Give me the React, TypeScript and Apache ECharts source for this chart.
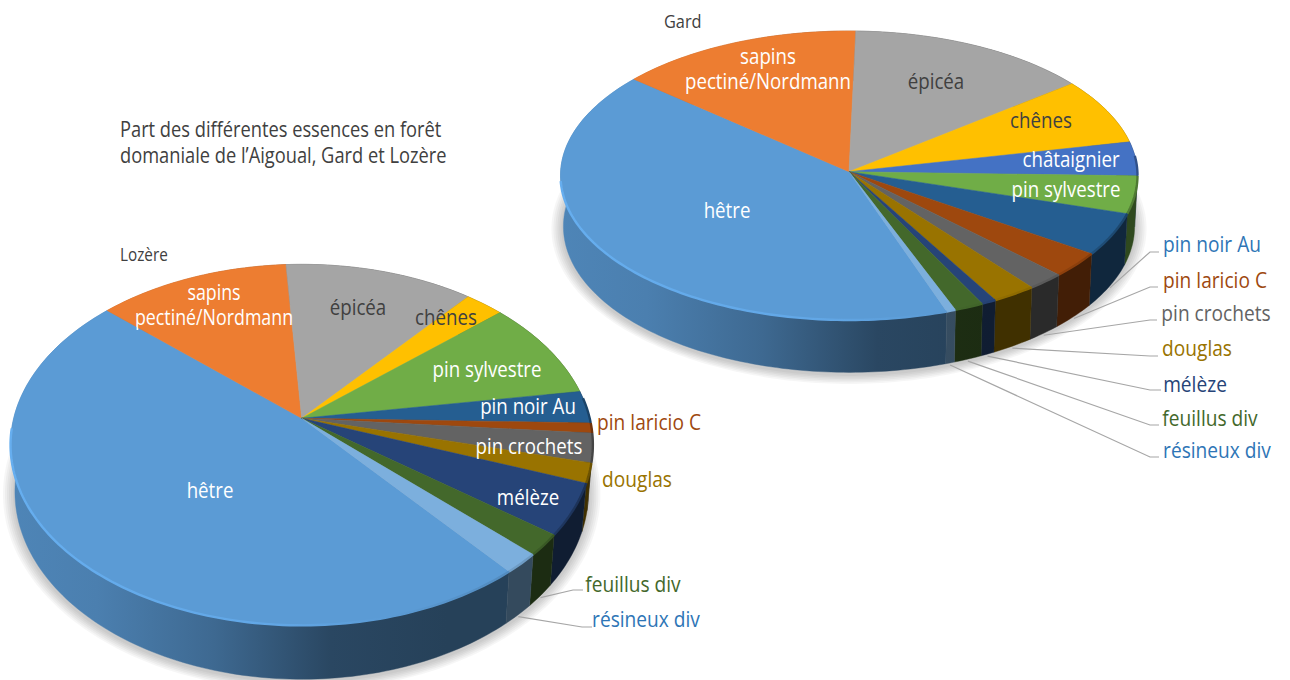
import React, { useEffect, useRef } from "react";
import * as echarts from "echarts";

const categories = [
  "hêtre", "sapins pectiné/Nordmann", "épicéa", "chênes", "châtaignier", "pin sylvestre",
  "pin noir Au", "pin laricio C", "pin crochets", "douglas", "mélèze", "feuillus div", "résineux div",
];
const lozereValues = [47.7, 12.3, 12.1, 2.5, 0, 8.9, 2.9, 0.9, 2.6, 1.75, 4.6, 1.9, 1.8];
const gardValues = [41.7, 14.1, 14.0, 7.3, 3.8, 4.2, 4.8, 2.9, 2.0, 2.4, 0.8, 1.6, 0.5];
const mainTitle = "Part des différentes essences en forêt\ndomaniale de l’Aigoual, Gard et Lozère";

const palette = ["#5B9BD5", "#ED7D31", "#A5A5A5", "#FFC000", "#4472C4", "#70AD47", "#255E91", "#9E480E", "#636363", "#997300", "#264478", "#43682B", "#7CAFDD"];
const textColors: any = {
  "pin noir Au": "#2E75B6", "pin laricio C": "#9E480E", "pin crochets": "#636363", douglas: "#997300",
  "mélèze": "#264478", "feuillus div": "#43682B", "résineux div": "#2E75B6",
};

const FONT = '"Open Sans"';

const lozereGeo = { ax: 301.7, ay: 418.3, rx: 288, ry: 176.6, p: 0.147, d: 46, bs: 0.985, start: 140.3, left: 10, right: 592, sapinScale: 0.81 };
const gardGeo = { ax: 849, ay: 171.7, rx: 288.4, ry: 144.4, p: 0.0263, d: 51, bs: 0.99, start: 160.7, left: 560, right: 1137, sapinScale: 0.85 };

// label centres: [x, y, colour override]
const lozereLabels: any = {
  "hêtre": [210, 489, "#fff"], "sapins pectiné/Nordmann": [214, 304, "#fff"], "épicéa": [358, 306, "#404040"],
  "chênes": [446, 316, "#404040"], "pin sylvestre": [487, 368, "#fff"], "pin noir Au": [528, 405, "#fff"],
  "pin laricio C": [649, 421], "pin crochets": [529, 445, "#fff"], douglas: [637, 478], "mélèze": [528, 496, "#fff"],
  "feuillus div": [633, 583], "résineux div": [646, 618],
};
const gardLabels: any = {
  "hêtre": [727, 209, "#fff"], "sapins pectiné/Nordmann": [768, 68, "#fff"], "épicéa": [936, 80, "#404040"],
  "chênes": [1041, 119, "#404040"], "châtaignier": [1071, 158, "#fff"], "pin sylvestre": [1066, 188, "#fff"],
  "pin noir Au": [1212, 243], "pin laricio C": [1215, 279], "pin crochets": [1216, 312], douglas: [1197, 347],
  "mélèze": [1195, 383], "feuillus div": [1210, 417], "résineux div": [1217, 449],
};
// leader lines: elbow then end
const lozereLeaders: any = {
  "feuillus div": [[573, 590], [583, 590]], "résineux div": [[582, 627], [592, 627]],
};
const gardLeaders: any = {
  "pin noir Au": [[1150, 252], [1159, 252]], "pin laricio C": [[1150, 287], [1158, 287]],
  "pin crochets": [[1150, 320], [1157, 320]], douglas: [[1150, 356], [1158, 356]],
  "mélèze": [[1150, 390], [1161, 390]], "feuillus div": [[1150, 425], [1159, 425]],
  "résineux div": [[1150, 457], [1159, 457]],
};

function hexRgb(c: string) {
  return [parseInt(c.slice(1, 3), 16), parseInt(c.slice(3, 5), 16), parseInt(c.slice(5, 7), 16)];
}
function mult(c: string, f: number) {
  const [r, g, b] = hexRgb(c).map((v) => Math.min(255, Math.round(v * f)));
  return `rgb(${r},${g},${b})`;
}

function top(g: any, deg: number) {
  const t = (deg * Math.PI) / 180;
  const u = Math.sin(t);
  const v = -Math.cos(t);
  const w = 1 - g.p * v;
  return { u, v, w, x: g.ax + (g.rx * u) / w, y: g.ay + (g.ry * v) / w };
}
function bottom(g: any, deg: number) {
  const q = top(g, deg);
  return [g.ax + (q.x - g.ax) * g.bs, q.y + g.d / q.w];
}
function spans(g: any, values: number[]) {
  const total = values.reduce((a, b) => a + b, 0);
  let cur = g.start;
  return values.map((v) => {
    const a = cur;
    cur += (v / total) * 360;
    return [a, cur];
  });
}
function sweep(a: number, b: number) {
  const n = Math.max(2, Math.ceil((b - a) / 1.2));
  const out: number[] = [];
  for (let i = 0; i <= n; i++) out.push(a + ((b - a) * i) / n);
  return out;
}

const wallStops = [[0, 0.86], [0.15, 0.82], [0.35, 0.68], [0.55, 0.46], [0.75, 0.42], [1, 0.42]];

function pieSeries(g: any, values: number[], labels: any, leaders: any) {
  const s = spans(g, values);
  const data = values.map((v) => [v]);
  const base = { type: "custom", coordinateSystem: "none", silent: true, clip: false, data };
  return [
    {
      ...base, z: 1,
      renderItem: (p: any) => {
        if (p.dataIndex !== 0) return null;
        const layers = [12, 10, 8, 6, 4, 2].map((k) => ({
          type: "polygon",
          shape: {
            points: sweep(0, 360).map((d) => {
              const b = bottom(g, d);
              const dx = b[0] - g.ax;
              const dy = b[1] - g.ay - g.d;
              const r = Math.hypot(dx, dy) || 1;
              return [b[0] + (dx / r) * k, b[1] + (dy / r) * k * 0.8 + 2];
            }),
          },
          style: { fill: "rgba(0,0,0,0.035)" },
        }));
        return { type: "group", children: layers };
      },
    },
    {
      ...base, z: 2,
      renderItem: (p: any) => {
        const i = p.dataIndex;
        if (!values[i]) return null;
        const [a, b] = s[i];
        const angs = sweep(a, b);
        const pts = angs.map((d) => { const q = top(g, d); return [q.x, q.y]; })
          .concat(angs.slice().reverse().map((d) => bottom(g, d)));
        const c = palette[i];
        const fill = new echarts.graphic.LinearGradient(g.left, 0, g.right, 0,
          wallStops.map(([o, f]) => ({ offset: o, color: mult(c, f) })), true);
        return { type: "polygon", shape: { points: pts }, style: { fill, stroke: fill, lineWidth: 0.4 } };
      },
    },
    {
      ...base, z: 3,
      renderItem: (p: any) => {
        const i = p.dataIndex;
        if (!values[i]) return null;
        const [a, b] = s[i];
        const pts = [[g.ax, g.ay]].concat(sweep(a, b).map((d) => { const q = top(g, d); return [q.x, q.y]; }));
        return { type: "polygon", shape: { points: pts }, style: { fill: palette[i], stroke: palette[i], lineWidth: 0.5 } };
      },
    },
    {
      ...base, z: 4,
      renderItem: (p: any) => {
        const i = p.dataIndex;
        if (!values[i]) return null;
        const [a, b] = s[i];
        const pts = sweep(a, b).map((d) => top(g, d)).filter((q) => q.v > (q.u < 0 ? 0.05 : -0.12)).map((q) => [q.x, q.y]);
        if (pts.length < 2) return null;
        const c = palette[i];
        const stroke = new echarts.graphic.LinearGradient(g.left, 0, g.right, 0, [
          { offset: 0, color: mult(c, 1.12) },
          { offset: 0.45, color: mult(c, 1.08) },
          { offset: 0.65, color: c },
          { offset: 0.9, color: mult(c, 0.88) },
          { offset: 1, color: mult(c, 0.7) },
        ], true);
        return { type: "polyline", shape: { points: pts }, style: { fill: "none", stroke, lineWidth: 2.4 } };
      },
    },
    {
      ...base, z: 5,
      renderItem: (p: any) => {
        const i = p.dataIndex;
        const name = categories[i];
        if (!values[i] || !leaders[name]) return null;
        const [a, b] = s[i];
        const st = bottom(g, (a + b) / 2);
        return {
          type: "polyline",
          shape: { points: [[st[0], st[1] + 2], ...leaders[name]] },
          style: { fill: "none", stroke: "#A6A6A6", lineWidth: 1.2 },
        };
      },
    },
    {
      ...base, z: 6,
      renderItem: (p: any) => {
        const i = p.dataIndex;
        const name = categories[i];
        if (!values[i] || !labels[name]) return null;
        const [x, y, col] = labels[name];
        const outside = !col;
        const isSapin = name.startsWith("sapins");
        return {
          type: "text",
          x, y, scaleX: isSapin ? g.sapinScale : outside ? 0.87 : 0.85,
          style: {
            text: name.replace("sapins pectiné", "sapins\npectiné"),
            x: 0, y: 0, align: "center", verticalAlign: "middle",
            fill: col || textColors[name], font: `${outside ? 500 : 400} 22px ${FONT}`, lineHeight: 25,
          },
        };
      },
    },
  ];
}

export default function App() {
  const ref = useRef<HTMLDivElement>(null);
  useEffect(() => {
    document.body.style.margin = "0";
    const chart = echarts.init(ref.current!, null, { renderer: "svg", width: 1290, height: 680 });
    chart.setOption({
      animation: false,
      backgroundColor: "#ffffff",
      graphic: [
        { type: "text", x: 120, y: 142, scaleX: 0.87, style: { text: mainTitle, x: 0, y: 0, align: "left", verticalAlign: "middle", fill: "#404040", font: `400 21px ${FONT}`, lineHeight: 26 } },
        { type: "text", x: 664, y: 20, scaleX: 0.86, style: { text: "Gard", x: 0, y: 0, align: "left", verticalAlign: "middle", fill: "#404040", font: `400 19px ${FONT}` } },
        { type: "text", x: 120, y: 254, scaleX: 0.85, style: { text: "Lozère", x: 0, y: 0, align: "left", verticalAlign: "middle", fill: "#404040", font: `400 18px ${FONT}` } },
      ],
      series: [
        ...pieSeries(lozereGeo, lozereValues, lozereLabels, lozereLeaders),
        ...pieSeries(gardGeo, gardValues, gardLabels, gardLeaders),
      ],
    });
    return () => chart.dispose();
  }, []);
  return <div ref={ref} style={{ position: "absolute", left: 0, top: 0, width: 1290, height: 680 }} />;
}
